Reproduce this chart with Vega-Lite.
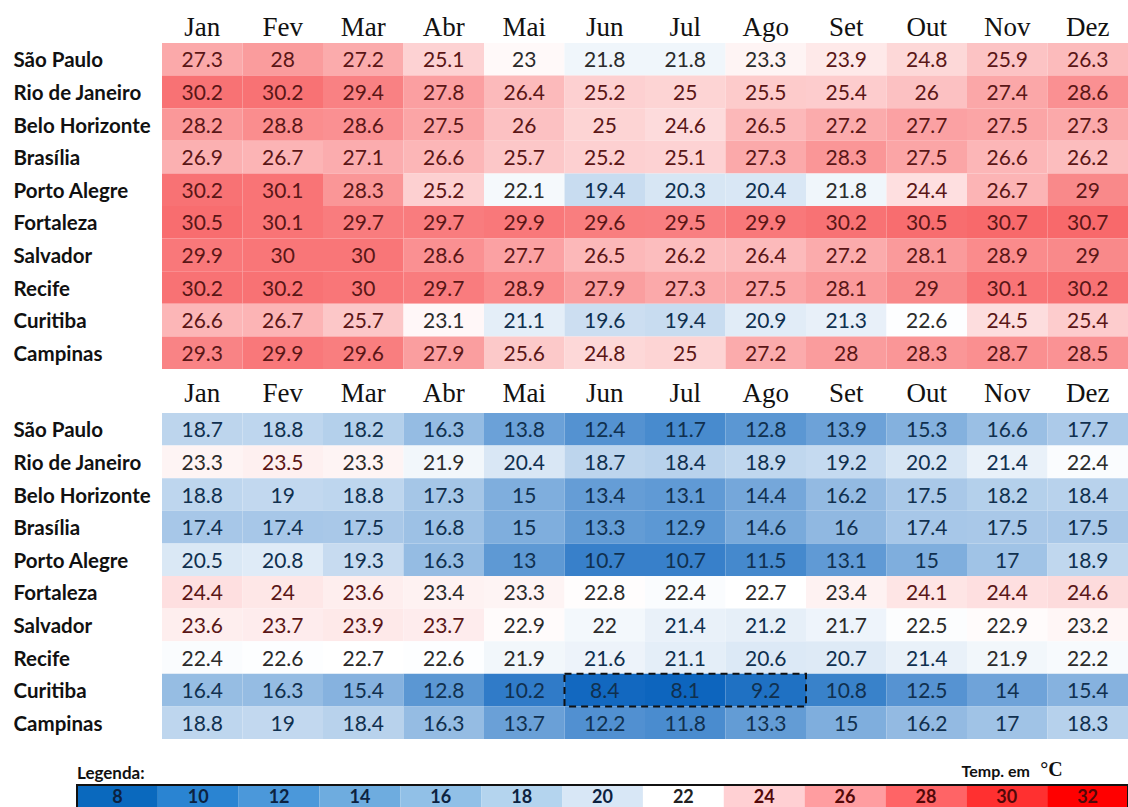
{
  "$schema": "https://vega.github.io/schema/vega-lite/v6.json",
  "padding": {"top": 13, "left": 13, "right": 0, "bottom": 0},
  "background": "white",
  "config": {"view": {"stroke": null}, "font": "Lato"},
  "datasets": {
    "tmax": [
      {"city": "São Paulo", "Jan": 27.3, "Fev": 28, "Mar": 27.2, "Abr": 25.1, "Mai": 23, "Jun": 21.8, "Jul": 21.8, "Ago": 23.3, "Set": 23.9, "Out": 24.8, "Nov": 25.9, "Dez": 26.3},
      {"city": "Rio de Janeiro", "Jan": 30.2, "Fev": 30.2, "Mar": 29.4, "Abr": 27.8, "Mai": 26.4, "Jun": 25.2, "Jul": 25, "Ago": 25.5, "Set": 25.4, "Out": 26, "Nov": 27.4, "Dez": 28.6},
      {"city": "Belo Horizonte", "Jan": 28.2, "Fev": 28.8, "Mar": 28.6, "Abr": 27.5, "Mai": 26, "Jun": 25, "Jul": 24.6, "Ago": 26.5, "Set": 27.2, "Out": 27.7, "Nov": 27.5, "Dez": 27.3},
      {"city": "Brasília", "Jan": 26.9, "Fev": 26.7, "Mar": 27.1, "Abr": 26.6, "Mai": 25.7, "Jun": 25.2, "Jul": 25.1, "Ago": 27.3, "Set": 28.3, "Out": 27.5, "Nov": 26.6, "Dez": 26.2},
      {"city": "Porto Alegre", "Jan": 30.2, "Fev": 30.1, "Mar": 28.3, "Abr": 25.2, "Mai": 22.1, "Jun": 19.4, "Jul": 20.3, "Ago": 20.4, "Set": 21.8, "Out": 24.4, "Nov": 26.7, "Dez": 29},
      {"city": "Fortaleza", "Jan": 30.5, "Fev": 30.1, "Mar": 29.7, "Abr": 29.7, "Mai": 29.9, "Jun": 29.6, "Jul": 29.5, "Ago": 29.9, "Set": 30.2, "Out": 30.5, "Nov": 30.7, "Dez": 30.7},
      {"city": "Salvador", "Jan": 29.9, "Fev": 30, "Mar": 30, "Abr": 28.6, "Mai": 27.7, "Jun": 26.5, "Jul": 26.2, "Ago": 26.4, "Set": 27.2, "Out": 28.1, "Nov": 28.9, "Dez": 29},
      {"city": "Recife", "Jan": 30.2, "Fev": 30.2, "Mar": 30, "Abr": 29.7, "Mai": 28.9, "Jun": 27.9, "Jul": 27.3, "Ago": 27.5, "Set": 28.1, "Out": 29, "Nov": 30.1, "Dez": 30.2},
      {"city": "Curitiba", "Jan": 26.6, "Fev": 26.7, "Mar": 25.7, "Abr": 23.1, "Mai": 21.1, "Jun": 19.6, "Jul": 19.4, "Ago": 20.9, "Set": 21.3, "Out": 22.6, "Nov": 24.5, "Dez": 25.4},
      {"city": "Campinas", "Jan": 29.3, "Fev": 29.9, "Mar": 29.6, "Abr": 27.9, "Mai": 25.6, "Jun": 24.8, "Jul": 25, "Ago": 27.2, "Set": 28, "Out": 28.3, "Nov": 28.7, "Dez": 28.5}
    ],
    "tmin": [
      {"city": "São Paulo", "Jan": 18.7, "Fev": 18.8, "Mar": 18.2, "Abr": 16.3, "Mai": 13.8, "Jun": 12.4, "Jul": 11.7, "Ago": 12.8, "Set": 13.9, "Out": 15.3, "Nov": 16.6, "Dez": 17.7},
      {"city": "Rio de Janeiro", "Jan": 23.3, "Fev": 23.5, "Mar": 23.3, "Abr": 21.9, "Mai": 20.4, "Jun": 18.7, "Jul": 18.4, "Ago": 18.9, "Set": 19.2, "Out": 20.2, "Nov": 21.4, "Dez": 22.4},
      {"city": "Belo Horizonte", "Jan": 18.8, "Fev": 19, "Mar": 18.8, "Abr": 17.3, "Mai": 15, "Jun": 13.4, "Jul": 13.1, "Ago": 14.4, "Set": 16.2, "Out": 17.5, "Nov": 18.2, "Dez": 18.4},
      {"city": "Brasília", "Jan": 17.4, "Fev": 17.4, "Mar": 17.5, "Abr": 16.8, "Mai": 15, "Jun": 13.3, "Jul": 12.9, "Ago": 14.6, "Set": 16, "Out": 17.4, "Nov": 17.5, "Dez": 17.5},
      {"city": "Porto Alegre", "Jan": 20.5, "Fev": 20.8, "Mar": 19.3, "Abr": 16.3, "Mai": 13, "Jun": 10.7, "Jul": 10.7, "Ago": 11.5, "Set": 13.1, "Out": 15, "Nov": 17, "Dez": 18.9},
      {"city": "Fortaleza", "Jan": 24.4, "Fev": 24, "Mar": 23.6, "Abr": 23.4, "Mai": 23.3, "Jun": 22.8, "Jul": 22.4, "Ago": 22.7, "Set": 23.4, "Out": 24.1, "Nov": 24.4, "Dez": 24.6},
      {"city": "Salvador", "Jan": 23.6, "Fev": 23.7, "Mar": 23.9, "Abr": 23.7, "Mai": 22.9, "Jun": 22, "Jul": 21.4, "Ago": 21.2, "Set": 21.7, "Out": 22.5, "Nov": 22.9, "Dez": 23.2},
      {"city": "Recife", "Jan": 22.4, "Fev": 22.6, "Mar": 22.7, "Abr": 22.6, "Mai": 21.9, "Jun": 21.6, "Jul": 21.1, "Ago": 20.6, "Set": 20.7, "Out": 21.4, "Nov": 21.9, "Dez": 22.2},
      {"city": "Curitiba", "Jan": 16.4, "Fev": 16.3, "Mar": 15.4, "Abr": 12.8, "Mai": 10.2, "Jun": 8.4, "Jul": 8.1, "Ago": 9.2, "Set": 10.8, "Out": 12.5, "Nov": 14, "Dez": 15.4},
      {"city": "Campinas", "Jan": 18.8, "Fev": 19, "Mar": 18.4, "Abr": 16.3, "Mai": 13.7, "Jun": 12.2, "Jul": 11.8, "Ago": 13.3, "Set": 15, "Out": 16.2, "Nov": 17, "Dez": 18.3}
    ],
    "box": [{"city": "Curitiba", "month": "Jun", "monthEnd": "Ago"}],
    "legend": [{"v": 8}, {"v": 10}, {"v": 12}, {"v": 14}, {"v": 16}, {"v": 18}, {"v": 20}, {"v": 22}, {"v": 24}, {"v": 26}, {"v": 28}, {"v": 30}, {"v": 32}],
    "border": [{"a": 8, "b": 32}]
  },
  "spacing": 21,
  "resolve": {"scale": {"color": "independent"}},
  "vconcat": [
    {
      "spacing": 9,
      "vconcat": [
        {
          "width": 966,
          "height": 326,
          "data": {"name": "tmax"},
          "transform": [{"fold": ["Jan", "Fev", "Mar", "Abr", "Mai", "Jun", "Jul", "Ago", "Set", "Out", "Nov", "Dez"], "as": ["month", "value"]}],
          "encoding": {
            "x": {"field": "month", "type": "ordinal", "scale": {"domain": ["Jan", "Fev", "Mar", "Abr", "Mai", "Jun", "Jul", "Ago", "Set", "Out", "Nov", "Dez"], "paddingInner": 0, "paddingOuter": 0},
              "axis": {"orient": "top", "title": null, "ticks": false, "domain": false, "labelAngle": 0, "labelFont": "Liberation Serif", "labelFontSize": 27, "labelColor": "#111111", "labelPadding": 2}},
            "y": {"field": "city", "type": "nominal", "scale": {"domain": ["São Paulo", "Rio de Janeiro", "Belo Horizonte", "Brasília", "Porto Alegre", "Fortaleza", "Salvador", "Recife", "Curitiba", "Campinas"], "paddingInner": 0, "paddingOuter": 0},
              "axis": {"title": null, "ticks": false, "domain": false, "labelAlign": "left", "labelPadding": 149, "labelOffset": 2, "labelFont": "Lato", "labelFontWeight": "bold", "labelFontSize": 20.5, "labelColor": "#111111"}}
          },
          "layer": [
            {"mark": {"type": "rect"},
             "encoding": {"color": {"field": "value", "type": "quantitative", "scale": {"domain": [8, 22.7, 30.7], "range": ["#0b64be", "#ffffff", "#f8696b"], "interpolate": "rgb"}, "legend": null}}},
            {"mark": {"type": "text", "font": "Lato", "fontSize": 21, "dy": 2},
             "encoding": {"text": {"field": "value", "type": "nominal"},
               "color": {"condition": [{"test": "datum.value >= 23.5", "value": "#5a1616"}, {"test": "datum.value <= 21.6", "value": "#10304f"}], "value": "#2b2b2b"}}}
          ]
        },
        {
          "width": 966,
          "height": 326,
          "layer": [
            {
              "data": {"name": "tmin"},
              "transform": [{"fold": ["Jan", "Fev", "Mar", "Abr", "Mai", "Jun", "Jul", "Ago", "Set", "Out", "Nov", "Dez"], "as": ["month", "value"]}],
              "encoding": {
                "x": {"field": "month", "type": "ordinal", "scale": {"domain": ["Jan", "Fev", "Mar", "Abr", "Mai", "Jun", "Jul", "Ago", "Set", "Out", "Nov", "Dez"], "paddingInner": 0, "paddingOuter": 0},
                  "axis": {"orient": "top", "title": null, "ticks": false, "domain": false, "labelAngle": 0, "labelFont": "Liberation Serif", "labelFontSize": 27, "labelColor": "#111111", "labelPadding": 6}},
                "y": {"field": "city", "type": "nominal", "scale": {"domain": ["São Paulo", "Rio de Janeiro", "Belo Horizonte", "Brasília", "Porto Alegre", "Fortaleza", "Salvador", "Recife", "Curitiba", "Campinas"], "paddingInner": 0, "paddingOuter": 0},
                  "axis": {"title": null, "ticks": false, "domain": false, "labelAlign": "left", "labelPadding": 149, "labelOffset": 2, "labelFont": "Lato", "labelFontWeight": "bold", "labelFontSize": 20.5, "labelColor": "#111111"}}
              },
              "layer": [
                {"mark": {"type": "rect"},
                 "encoding": {"color": {"field": "value", "type": "quantitative", "scale": {"domain": [8, 22.7, 30.7], "range": ["#0b64be", "#ffffff", "#f8696b"], "interpolate": "rgb"}, "legend": null}}},
                {"mark": {"type": "text", "font": "Lato", "fontSize": 21, "dy": 2},
                 "encoding": {"text": {"field": "value", "type": "nominal"},
                   "color": {"condition": [{"test": "datum.value >= 23.5", "value": "#5a1616"}, {"test": "datum.value <= 21.6", "value": "#10304f"}], "value": "#2b2b2b"}}}
              ]
            },
            {
              "data": {"name": "box"},
              "mark": {"type": "rect", "fill": null, "stroke": "#111111", "strokeWidth": 2, "strokeDash": [7, 5]},
              "encoding": {
                "x": {"field": "month", "type": "ordinal", "bandPosition": 0},
                "x2": {"field": "monthEnd", "bandPosition": 1},
                "y": {"field": "city", "type": "nominal"}
              }
            }
          ]
        }
      ]
    },
    {
      "width": 966,
      "height": 48,
      "layer": [
        {
          "data": {"name": "legend"},
          "mark": {"type": "rect"},
          "encoding": {
            "x": {"field": "v", "type": "ordinal", "scale": {"range": [-85, 966], "paddingInner": 0, "paddingOuter": 0}, "axis": null},
            "y": {"datum": "bar", "type": "nominal", "scale": {"domain": ["lab", "bar"], "paddingInner": 0, "paddingOuter": 0}, "axis": null},
            "color": {"field": "v", "type": "ordinal", "scale": {"domain": [8, 10, 12, 14, 16, 18, 20, 22, 24, 26, 28, 30, 32], "range": ["#0a69be", "#2a84d2", "#4b98da", "#6eacdf", "#91c0e7", "#b4d4ee", "#d8e7f6", "#ffffff", "#ffd0d3", "#ff9da0", "#ff6466", "#ff3030", "#ff0000"]}, "legend": null}
          }
        },
        {
          "data": {"name": "legend"},
          "mark": {"type": "text", "font": "Lato", "fontWeight": "bold", "fontSize": 18, "dy": 1},
          "encoding": {
            "x": {"field": "v", "type": "ordinal"},
            "y": {"datum": "bar", "type": "nominal"},
            "text": {"field": "v", "type": "nominal"},
            "color": {"condition": [{"test": "datum.v < 22", "value": "#0c2240"}, {"test": "datum.v > 22", "value": "#520808"}], "value": "#222222"}
          }
        },
        {
          "data": {"name": "border"},
          "mark": {"type": "rect", "fill": null, "stroke": "#111111", "strokeWidth": 2},
          "encoding": {
            "x": {"field": "a", "type": "ordinal", "bandPosition": 0},
            "x2": {"field": "b", "bandPosition": 1},
            "y": {"datum": "bar", "type": "nominal"}
          }
        },
        {
          "data": {"values": [{"txt": "Legenda:", "pos": 8}]},
          "mark": {"type": "text", "font": "Lato", "fontWeight": "bold", "fontSize": 17, "align": "left", "dy": 1, "color": "#111111"},
          "encoding": {"x": {"field": "pos", "type": "ordinal", "bandPosition": 0}, "y": {"datum": "lab", "type": "nominal"}, "text": {"field": "txt", "type": "nominal"}}
        },
        {
          "data": {"values": [{"txt": "Temp. em", "pos": 30}]},
          "mark": {"type": "text", "font": "Lato", "fontWeight": "bold", "fontSize": 16, "dx": -11, "dy": -1, "color": "#111111"},
          "encoding": {"x": {"field": "pos", "type": "ordinal"}, "y": {"datum": "lab", "type": "nominal"}, "text": {"field": "txt", "type": "nominal"}}
        },
        {
          "data": {"values": [{"txt": "°C", "pos": 32}]},
          "mark": {"type": "text", "font": "Liberation Serif", "fontWeight": "bold", "fontSize": 20, "dx": -36, "dy": -3, "color": "#111111"},
          "encoding": {"x": {"field": "pos", "type": "ordinal"}, "y": {"datum": "lab", "type": "nominal"}, "text": {"field": "txt", "type": "nominal"}}
        }
      ]
    }
  ]
}
